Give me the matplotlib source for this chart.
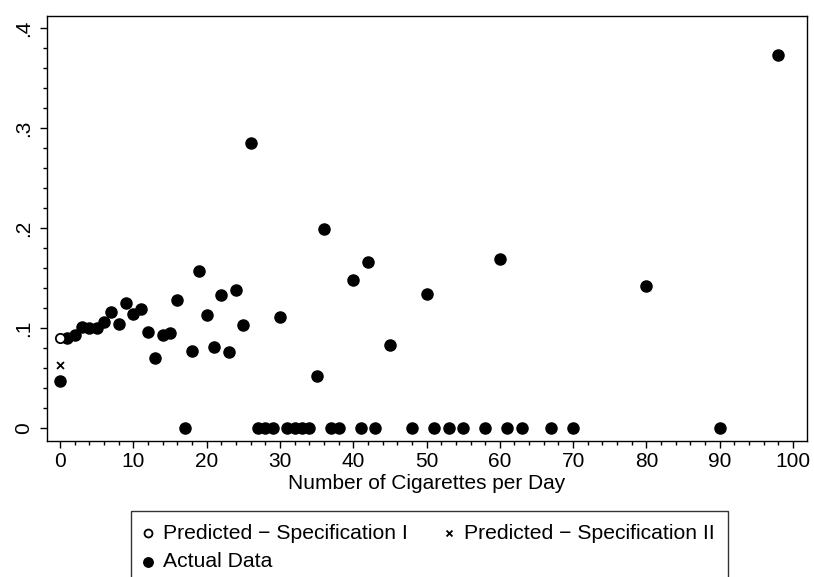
import matplotlib
matplotlib.use("Agg")
import matplotlib.pyplot as plt
from matplotlib.ticker import MultipleLocator, FuncFormatter

plt.rcParams['font.family'] = ['Liberation Sans', 'DejaVu Sans']

# Actual data
cigs = [0, 1, 2, 3, 4, 5, 6, 7, 8, 9, 10, 11, 12, 13, 14, 15, 16, 17, 18, 19,
        20, 21, 22, 23, 24, 25, 26, 27, 28, 29, 30, 31, 32, 33, 34, 35, 36, 37,
        38, 40, 41, 42, 43, 45, 48, 50, 51, 53, 55, 58, 60, 61, 63, 67, 70, 80,
        90, 98]
actual = [0.047, 0.090, 0.093, 0.101, 0.100, 0.100, 0.106, 0.116, 0.104, 0.125,
          0.114, 0.119, 0.096, 0.070, 0.093, 0.095, 0.128, 0.0, 0.077, 0.157,
          0.113, 0.081, 0.133, 0.076, 0.138, 0.103, 0.285, 0.0, 0.0, 0.0,
          0.111, 0.0, 0.0, 0.0, 0.0, 0.052, 0.199, 0.0, 0.0, 0.148, 0.0, 0.166,
          0.0, 0.083, 0.0, 0.134, 0.0, 0.0, 0.0, 0.0, 0.169, 0.0, 0.0, 0.0, 0.0,
          0.142, 0.0, 0.373]

# Predictions
pred_x = [0]
pred_spec1 = [0.090]
pred_spec2 = [0.063]

xticks = [0, 10, 20, 30, 40, 50, 60, 70, 80, 90, 100]
yticks = [0, 0.1, 0.2, 0.3, 0.4]

FS = 15
W, H = 814, 577
fig = plt.figure(figsize=(W / 100, H / 100), dpi=100)
ax = fig.add_axes([47 / W, 1 - 441 / H, (807 - 47) / W, (441 - 16) / H])

h1 = ax.scatter(pred_x, pred_spec1, s=45, facecolors='white', edgecolors='black',
                linewidths=1.3, zorder=4)
h2 = ax.scatter(pred_x, pred_spec2, s=25, marker='x', color='black',
                linewidths=1.3, zorder=4)
h3 = ax.scatter(cigs, actual, s=64, color='black', zorder=3)

ax.set_xlim(-1.77, 101.9)
ax.set_ylim(-0.013, 0.412)
ax.set_xticks(xticks)
ax.set_yticks(yticks)
ax.xaxis.set_minor_locator(MultipleLocator(2))
ax.yaxis.set_minor_locator(MultipleLocator(0.02))

def yfmt(v, pos):
    if abs(v) < 1e-9:
        return '0'
    return ('%.1f' % v).lstrip('0')

ax.yaxis.set_major_formatter(FuncFormatter(yfmt))
ax.tick_params(axis='both', which='major', length=5.2, width=1, labelsize=FS, direction='out')
ax.tick_params(axis='both', which='minor', length=3, width=1, direction='out')
ax.tick_params(axis='x', which='major', pad=3)
ax.tick_params(axis='y', which='major', pad=5)
for lbl in ax.get_yticklabels():
    lbl.set_rotation(90)
    lbl.set_va('center')
for sp in ax.spines.values():
    sp.set_linewidth(1)
    sp.set_color('black')

ax.set_xlabel('Number of Cigarettes per Day', fontsize=FS, labelpad=2)

leg = fig.legend([h1, h3, h2],
                 ['Predicted \u2212 Specification I', 'Actual Data',
                  'Predicted \u2212 Specification II'],
                 ncol=2, loc='upper left',
                 bbox_to_anchor=(131 / W, 1 - 510.5 / H), borderaxespad=0,
                 frameon=True, fancybox=False, fontsize=15.25,
                 handletextpad=0.55, columnspacing=1.75, borderpad=0.62,
                 labelspacing=0.45, handlelength=0.35, markerscale=0.85)
leg.get_frame().set_edgecolor('black')
leg.get_frame().set_linewidth(1)

fig.savefig('out.png', dpi=100)
